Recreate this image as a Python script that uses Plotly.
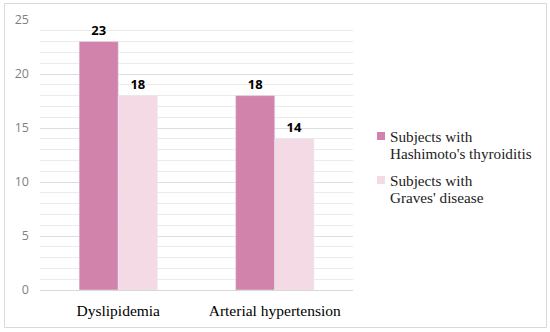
import plotly.graph_objects as go

categories = ["Dyslipidemia", "Arterial hypertension"]
hashimoto = [23, 18]
graves = [18, 14]
series_lines = [["Subjects with", "Hashimoto's thyroiditis"], ["Subjects with", "Graves' disease"]]
colors = ["#D183AB", "#F3DAE5"]

W, H = 550, 332
L, R, T, B = 40, 197, 20, 42
pw = W - L - R
ph = H - T - B


def px(x):
    return (x - L) / pw


def py(y):
    return 1 - (y - T) / ph


fig = go.Figure()
for vals, lines, col in zip([hashimoto, graves], series_lines, colors):
    fig.add_bar(x=categories, y=vals, name=" ".join(lines), marker_color=col,
                text=vals, textposition="outside",
                textfont=dict(family="Open Sans, Arial", size=13, color="black"),
                texttemplate="<b>%{text}</b>", cliponaxis=False, showlegend=False)

# outer border
fig.add_shape(type="rect", xref="paper", yref="paper",
              x0=px(4.5), x1=px(546.5), y0=py(327.5), y1=py(3.5),
              line=dict(color="#D9D9D9", width=1), fillcolor="rgba(0,0,0,0)", layer="below")

# custom legend
item_tops = [136, 180]
for top, lines, col in zip(item_tops, series_lines, colors):
    fig.add_shape(type="rect", xref="paper", yref="paper",
                  x0=px(377), x1=px(385), y0=py(top + 4), y1=py(top - 4),
                  line=dict(width=0), fillcolor=col)
    for i, ln in enumerate(lines):
        fig.add_annotation(xref="paper", yref="paper", x=px(388), y=py(top + 17 * i),
                           text=ln, showarrow=False, xanchor="left", yanchor="middle",
                           font=dict(family="Liberation Serif, serif", size=15.2, color="#222"))

fig.update_layout(
    width=W, height=H,
    margin=dict(l=L, r=R, t=T, b=B),
    paper_bgcolor="white", plot_bgcolor="white",
    barmode="group", bargap=0.5, bargroupgap=0,
    showlegend=False,
    xaxis=dict(showgrid=False, showline=True, linecolor="#D9D9D9", ticks="",
               ticklabelstandoff=6,
               tickfont=dict(family="Liberation Serif, serif", size=15.5, color="black")),
    yaxis=dict(range=[0, 25], dtick=5, showgrid=True, gridcolor="#DEDEDE",
               zeroline=False, showline=False, ticks="", ticklabelstandoff=10,
               tickfont=dict(family="Open Sans, Arial", size=12.5, color="#7F7F7F"),
               minor=dict(dtick=1, showgrid=True, gridcolor="#EBEBEB")),
)
fig.write_html("out.html", config={"displayModeBar": False},
               post_script="document.body.style.margin='0';")
